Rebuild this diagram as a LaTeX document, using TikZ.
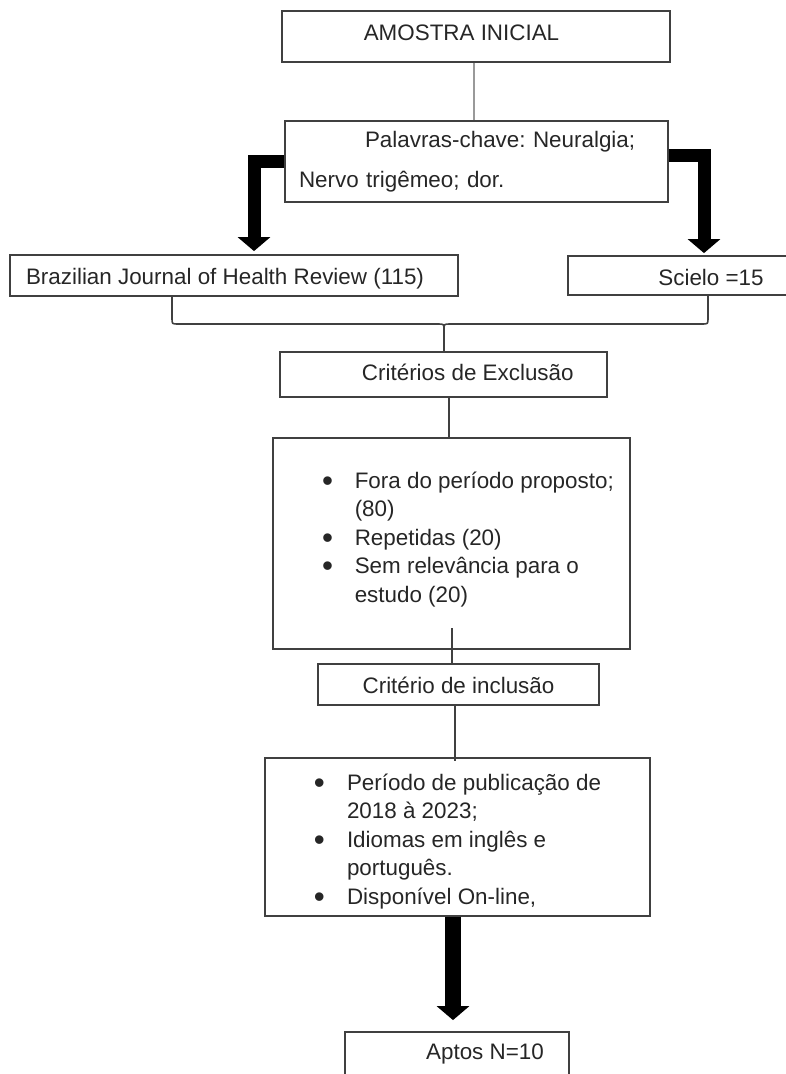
\documentclass[tikz,border=0pt]{standalone}
\usepackage{fontspec}
\setmainfont{Liberation Sans}
\usetikzlibrary{arrows.meta}
\frenchspacing
\newcommand{\bigbullet}{\raisebox{-3pt}{\scalebox{1.4}{\textbullet}}}
\begin{document}
\begin{tikzpicture}[x=1pt,y=-1pt,
  box/.style={draw=black!75, line width=1.8pt, inner sep=0pt, text=black!85,
    font=\fontsize{22.4}{28.5}\selectfont},
  thinline/.style={draw=black!75, line width=1.6pt},
  lightline/.style={draw=black!40, line width=1.4pt},
  bigarrow/.style={draw=black, line width=13pt, line join=miter,
    -{Triangle[width=32pt,length=14pt]}}]
\useasboundingbox (0,0) rectangle (785,1074);

% boxes
\node[box, minimum width=388pt, minimum height=51pt, text height=17pt, text depth=8.6pt]
  (b1) at (476,36.5) {AMOSTRA INICIAL\hspace*{29pt}};
\node[box, minimum width=383pt, minimum height=81pt, text width=355pt, align=left]
  (b2) at (476.5,161.5) {\hspace*{66pt}Palavras-chave: Neuralgia;\\[11.5pt]Nervo trigêmeo; dor.};
\node[box, minimum width=448pt, minimum height=41pt, text height=22pt, text depth=5pt]
  (b3) at (234,275.5) {Brazilian Journal of Health Review (115)\hspace*{18pt}};
\node[box, minimum width=222pt, minimum height=39pt, text height=23pt, text depth=4pt]
  (b4) at (679,275.5) {\hspace*{64pt}Scielo =15};
\node[box, minimum width=327pt, minimum height=45pt, text height=18pt, text depth=7pt]
  (b5) at (443.5,374.5) {\hspace*{48.6pt}Critérios de Exclusão};
\node[box, minimum width=357pt, minimum height=211pt]
  (b6) at (451.5,543.5) {\hspace*{33pt}\begin{tabular}{@{}l@{\hspace{21.6pt}}l@{}}
    \bigbullet & Fora do período proposto;\\
     & (80)\\
    \bigbullet & Repetidas (20)\\
    \bigbullet & Sem relevância para o\\
     & estudo (20)\\[8pt]
  \end{tabular}};
\node[box, minimum width=281pt, minimum height=41pt, text height=22pt, text depth=5pt]
  (b7) at (458.5,684.5) {Critério de inclusão};
\node[box, minimum width=385pt, minimum height=158pt]
  (b8) at (457.5,837) {\begin{tabular}{@{}l@{\hspace{22.1pt}}l@{}}
    \rule{0pt}{28.6pt}\bigbullet & Período de publicação de\\
     & 2018 à 2023;\\
    \bigbullet & Idiomas em inglês e\\
     & português.\\
    \bigbullet & Disponível On-line,
  \end{tabular}};
\node[box, minimum width=224pt, minimum height=48pt, text height=16pt, text depth=10pt]
  (b9) at (457,1056) {\hspace*{56pt}Aptos N=10};

% helper coordinates
\coordinate (x1) at (474,0);
\coordinate (xL) at (254,0);
\coordinate (xR) at (704,0);
\coordinate (bl) at (172,0);
\coordinate (br) at (708,0);
\coordinate (bx) at (444,0);
\coordinate (x2) at (449,0);
\coordinate (s6) at (452,628);
\coordinate (x3) at (455,0);
\coordinate (xB) at (453,0);

% connectors
\draw[lightline] (b1.south -| x1) -- (b2.north -| x1);
\draw[bigarrow] (b2.west) -| ([yshift=3pt]b3.north -| xL);
\draw[bigarrow] ([yshift=6.5pt]b2.east) -| ([yshift=2pt]b4.north -| xR);

% brace
\draw[thinline] (b3.south -| bl) -- (172,318) .. controls (172,324) .. (178,324)
  -- (438,324) .. controls (444,324) .. (444,330) -- (b5.north -| bx);
\draw[thinline] (444,330) .. controls (444,324) .. (450,324) -- (702,324)
  .. controls (708,324) .. (708,318) -- (b4.south -| br);

\draw[thinline] (b5.south -| x2) -- (b6.north -| x2);
\draw[thinline] (s6) -- (b7.north -| s6);
\draw[thinline] (b7.south -| x3) -- ([yshift=-4pt]b8.north -| x3);
\draw[bigarrow, line width=16pt] (b8.south -| xB) -- ([yshift=11pt]b9.north -| xB);
\end{tikzpicture}
\end{document}
